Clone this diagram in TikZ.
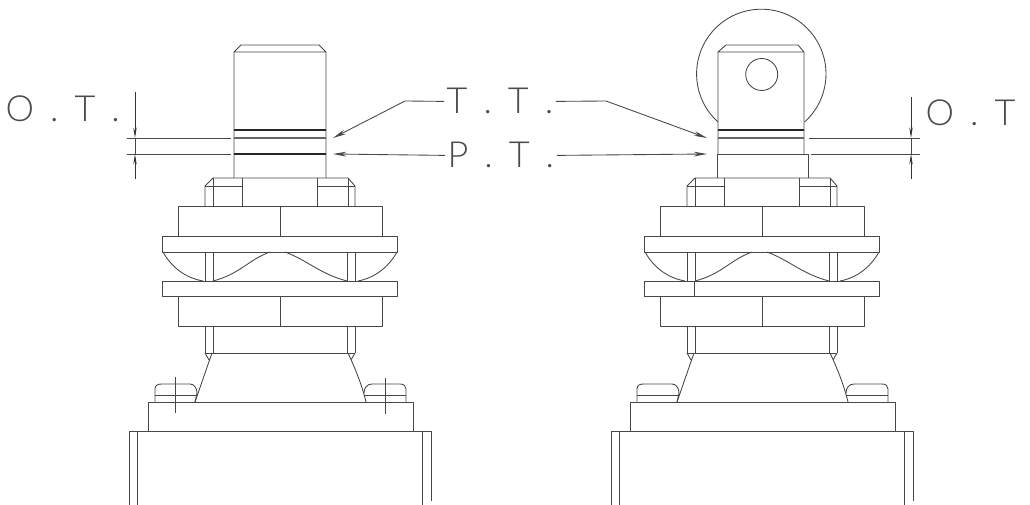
\documentclass[tikz,border=0pt]{standalone}
\usepackage{fontspec}
\setmainfont{Lato Light}
\usepackage{xcolor}
\usetikzlibrary{arrows, arrows.meta}
\colorlet{cadline}{black!72}
\newcommand{\cadfont}{\fontsize{27}{27}\selectfont}
\newcommand{\cadgap}{\hspace{12pt}}
\tikzset{
	part/.style={draw=cadline, line width=0.65pt, line join=round},
	band/.style={draw=black!85, line width=1pt},
	lead/.style={draw=cadline, line width=0.65pt, -{Stealth[length=10pt, width=3.6pt]}},
	dimarrow/.style={draw=black!80, line width=0.65pt, -{Stealth[length=8pt, width=2.6pt]}},
	cadtext/.style={text=black!70, inner sep=0pt, outer sep=2pt, font=\cadfont}
}
\begin{document}
\begin{tikzpicture}[x=0.75pt, y=-0.75pt]
	\useasboundingbox (0,0) rectangle (1030,505);
	\foreach \ox in {0,482}
	{
		\begin{scope}[shift={(\ox,0)}]
			\draw[part] (205,206) -- (205,186) -- (213,178) -- (348,178) -- (355,186) -- (355,206);
			\draw[part] (213,178) -- (213,206) (348,178) -- (348,206) (242,178) -- (242,206) (317,178) -- (317,206);
			\draw[part] (205,186) -- (242,186) (317,186) -- (355,186);
			\draw[part] (178,236) rectangle (382,206) (280,206) -- (280,236);
			\draw[part] (162,236) rectangle (397,252);
			\draw[part] (162,281) rectangle (397,296);
			\draw[part] (178,296) rectangle (382,326) (280,296) -- (280,326);
			\foreach \vx in {205,213,347,355}
				\draw[part] (\vx,252) -- (\vx,281) (\vx,326) -- (\vx,353);
			% springs
			\draw[part] (163,252) .. controls (172,268) and (186,278) .. (203,281);
			\draw[part] (397,252) .. controls (388,268) and (374,278) .. (358,281);
			\draw[part] (213,281) .. controls (240,274) and (248,260) .. (270,252);
			\draw[part] (347,281) .. controls (320,274) and (307,260) .. (285,252);
			% cone and base
			\draw[part] (205,353) -- (355,353);
			\draw[part] (212,353) -- (195,402) (205,353) -- (209,360);
			\draw[part] (348,353) .. controls (355,368) and (362,385) .. (366,402) (355,353) -- (351,360);
			\draw[part] (148,431) rectangle (413,402);
			\draw[part] (129,505) -- (129,431) -- (431,431) -- (431,501) (137,431) -- (137,505) (422,431) -- (422,505);
			% screws
			\draw[part] (155,402) -- (155,389) .. controls (155,385) and (158,384) .. (162,384) -- (190,384) .. controls (194,384) and (197,388) .. (197,393) -- (195,402);
			\draw[part] (155,395) -- (197,395);
			\draw[part] (364,393) .. controls (364,388) and (367,384) .. (372,384) -- (400,384) .. controls (404,384) and (406,386) .. (406,389) -- (406,402);
			\draw[part] (364,395) -- (406,395);
		\end{scope}
	}
	% crosses on the left screws
	\draw[part] (175,377) -- (175,413) (385,378) -- (385,414);
	\draw[part] (694,281) -- (694,296);
	% left plunger
	\draw[part] (234,178) -- (234,52) -- (241,45) -- (319,45) -- (326,52) -- (326,178) (234,52) -- (326,52);
	\draw[band] (234,130) -- (326,130) (234,154) -- (326,154);
	\draw[band, draw=black!60] (234,138) -- (326,138);
	% right plunger and roller
	\draw[part] (718,154) -- (718,52) -- (726,45) -- (798,45) -- (804,52) -- (804,154) (718,52) -- (804,52);
	\draw[part] (717,178) -- (717,154) -- (808,154) -- (808,178);
	\draw[band] (718,130) -- (804,130);
	\draw[band, draw=black!60] (718,138) -- (804,138);
	\draw[part] (718,122) arc[start angle=132, end angle=408, radius=64.7];
	\draw[part] (761.7,74.5) circle[radius=16];
	% labels
	\node[cadtext, anchor=base west] (otleft) at (3,122) {O\cadgap.\cadgap T\cadgap.};
	\node[cadtext, anchor=base west] (tt) at (444,114) {T\cadgap.\cadgap T\cadgap.};
	\node[cadtext, anchor=base west] (pt) at (445,168) {P\cadgap.\cadgap T\cadgap.};
	\node[cadtext, anchor=base west] (otright) at (923,126) {O\cadgap.\cadgap T};
	% arrows
	\coordinate (ttbendl) at (405,101);
	\coordinate (ttbendr) at (606,101);
	\coordinate (ttendl) at (333,138);
	\coordinate (ttendr) at (707,138);
	\coordinate (ptendl) at (333,154);
	\coordinate (ptendr) at (707,154);
	\draw[lead] (tt.west) -- (ttbendl) -- (ttendl);
	\draw[lead] (tt.east) -- (ttbendr) -- (ttendr);
	\draw[lead] (pt.west) -- (ptendl);
	\draw[lead] (pt.east) -- (ptendr);
	% dimensions
	\draw[part] (127,138) -- (231,138) (127,154) -- (231,154);
	\draw[part] (809,138) -- (920,138) (811,154) -- (920,154);
	\draw[dimarrow] (135,92) -- (135,138);
	\draw[dimarrow] (135,179) -- (135,154);
	\draw[part] (135,138) -- (135,154);
	\draw[dimarrow] (911,97) -- (911,138);
	\draw[dimarrow] (911,179) -- (911,154);
	\draw[part] (911,138) -- (911,154);
\end{tikzpicture}
\end{document}
